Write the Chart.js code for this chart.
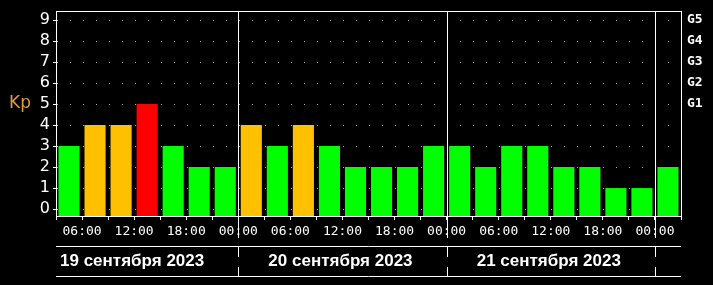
<!DOCTYPE html>
<html>
<head>
<meta charset="utf-8">
<script src="https://cdn.jsdelivr.net/npm/chart.js@4"></script>
<style>
    body { margin: 0; background: #000; }
    #wrap { width: 713px; height: 285px; position: relative; }
</style>
</head>
<body>
<div id="wrap"><canvas id="kp-canvas"></canvas></div>
<script>
// Kp index, 3-hour intervals starting 03:00 19 Sep 2023
const kpValues = [3, 4, 4, 5, 3, 2, 2,
    4, 3, 4, 3, 2, 2, 2, 3,
    3, 2, 3, 3, 2, 2, 1, 1,
    2];
const startHour = 3;   // hours from 00:00 of the first day
const stepHours = 3;
const dayLabels = [`19 сентября 2023`, `20 сентября 2023`, `21 сентября 2023`];
const kpTicks = [0, 1, 2, 3, 4, 5, 6, 7, 8, 9];
const gTicks = [5, 6, 7, 8, 9];
const gLabels = [`G1`, `G2`, `G3`, `G4`, `G5`];

const yMin = -0.33;
const yMax = 9.43;
const xMin = startHour;
const xMax = startHour + kpValues.length * stepHours;

function barColor(kp) {
    if (kp >= 5) {
        return '#ff0000';
    }
    if (kp >= 4) {
        return '#ffc000';
    }
    return '#00ff00';
}

function hourLabel(h) {
    if (h % 6 !== 0) {
        return ``;
    }
    const hh = h % 24;
    return `${hh < 10 ? '0' : ''}${hh}:00`;
}

function noPadding(scale) {
    scale.paddingTop = 0;
    scale.paddingBottom = 0;
    scale.paddingLeft = 0;
    scale.paddingRight = 0;
}

const framePlugin = {
    id: 'frame',
    afterDatasetsDraw(chart) {
        const ctx = chart.ctx;
        const area = chart.chartArea;
        const x = chart.scales.x;
        ctx.save();
        ctx.strokeStyle = '#ffffff';
        ctx.lineWidth = 1;
        ctx.strokeRect(Math.round(area.left) + 0.5, Math.round(area.top) + 0.5,
            Math.round(area.right - area.left), Math.round(area.bottom - area.top));

        // day separators
        for (let d = 1; d <= dayLabels.length; d++) {
            const px = Math.round(x.getPixelForValue(d * 24)) + 0.5;
            ctx.beginPath();
            ctx.moveTo(px, area.top);
            ctx.lineTo(px, area.bottom + 22);
            ctx.moveTo(px, area.bottom + 31);
            ctx.lineTo(px, area.bottom + 41);
            ctx.moveTo(px, area.bottom + 51);
            ctx.lineTo(px, area.bottom + 60);
            ctx.stroke();
        }

        // date row lines
        ctx.beginPath();
        ctx.moveTo(area.left, area.bottom + 30.5);
        ctx.lineTo(area.right, area.bottom + 30.5);
        ctx.moveTo(area.left, area.bottom + 60.5);
        ctx.lineTo(area.right, area.bottom + 60.5);
        ctx.stroke();
        ctx.restore();
    },
    afterDraw(chart) {
        const ctx = chart.ctx;
        const area = chart.chartArea;
        const x = chart.scales.x;
        const y = chart.scales.y;
        ctx.save();
        ctx.fillStyle = '#ffffff';
        ctx.font = 'bold 17px "Liberation Sans"';
        ctx.textAlign = 'center';
        ctx.textBaseline = 'middle';
        dayLabels.forEach((label, i) => {
            ctx.fillText(label, x.getPixelForValue(12 + i * 24) - 2, area.bottom + 45);
        });

        ctx.fillStyle = '#e09a40';
        ctx.font = '17px "DejaVu Sans"';
        ctx.textAlign = 'left';
        ctx.fillText(`Kp`, 9, y.getPixelForValue(5));
        ctx.restore();
    }
};

const ctx = document.querySelector('#kp-canvas').getContext('2d');
const kpChart = new Chart(ctx, {
    type: 'bar',
    data: {
        datasets: [
            {
                data: kpValues.map((kp, i) => ({ x: startHour + stepHours * (i + 0.5), y: kp })),
                backgroundColor: kpValues.map(barColor),
                borderWidth: 0,
                base: yMin,
                barPercentage: 0.81,
                categoryPercentage: 1,
                yAxisID: 'y'
            }
        ]
    },
    options: {
        responsive: true,
        maintainAspectRatio: false,
        animation: false,
        layout: { padding: { top: 11, left: 0, right: 0, bottom: 0 } },
        plugins: {
            legend: { display: false },
            tooltip: { enabled: false }
        },
        scales: {
            x: {
                type: 'linear',
                offset: false,
                min: xMin,
                max: xMax,
                afterBuildTicks: scale => {
                    const ticks = [];
                    for (let h = xMin; h <= xMax; h += stepHours) {
                        ticks.push({ value: h });
                    }
                    scale.ticks = ticks;
                },
                afterFit: scale => {
                    scale.height = 69;
                    noPadding(scale);
                },
                grid: {
                    offset: false,
                    drawOnChartArea: false,
                    color: '#ffffff',
                    tickLength: 4
                },
                border: { color: '#ffffff' },
                ticks: {
                    color: '#ffffff',
                    font: { family: '"DejaVu Sans Mono"', size: 13 },
                    padding: 4,
                    maxRotation: 0,
                    autoSkip: false,
                    callback: value => hourLabel(value)
                }
            },
            y: {
                position: 'left',
                min: yMin,
                max: yMax,
                afterBuildTicks: scale => {
                    scale.ticks = kpTicks.map(v => ({ value: v }));
                },
                afterFit: scale => {
                    scale.width = 56;
                    noPadding(scale);
                },
                grid: {
                    color: '#b0b0b0',
                    tickColor: '#ffffff',
                    tickLength: 3,
                    tickBorderDash: [],
                    borderDash: [1, 12]
                },
                border: { color: '#ffffff', dash: [1, 12] },
                ticks: {
                    color: '#ffffff',
                    font: { family: '"DejaVu Sans"', size: 16 },
                    padding: 3,
                    autoSkip: false
                }
            },
            y2: {
                position: 'right',
                min: yMin,
                max: yMax,
                afterBuildTicks: scale => {
                    scale.ticks = gTicks.map(v => ({ value: v }));
                },
                afterFit: scale => {
                    scale.width = 32;
                    noPadding(scale);
                },
                grid: { drawOnChartArea: false, drawTicks: false },
                border: { color: '#ffffff' },
                ticks: {
                    color: '#ffffff',
                    font: { family: '"DejaVu Sans Mono"', size: 13, weight: 'bold' },
                    padding: 6,
                    autoSkip: false,
                    callback: value => gLabels[gTicks.indexOf(value)]
                }
            }
        }
    },
    plugins: [framePlugin]
});
</script>
</body>
</html>
